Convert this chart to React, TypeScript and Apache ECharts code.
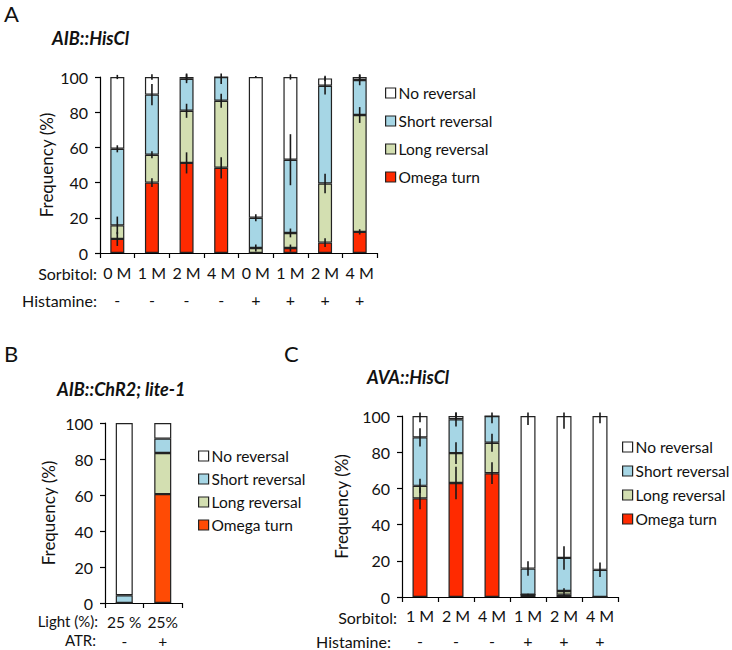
import React, { useEffect, useRef } from "react";
import * as echarts from "echarts";

// ---------- Panel A: AIB::HisCl ----------
const sorbitolA = ["0 M", "1 M", "2 M", "4 M", "0 M", "1 M", "2 M", "4 M"];
const histamineA = ["-", "-", "-", "-", "+", "+", "+", "+"];
// cumulative tops of each stacked segment (%)
const omegaTopA = [8, 40, 51.2, 48.4, 0, 2.8, 5.9, 12];
const longTopA = [15.7, 55.8, 80.8, 86.5, 2.8, 11.4, 39.5, 78.4];
const shortTopA = [59.2, 90, 99, 100, 20, 53, 95, 98.3];
const totalA = [100, 100, 100, 100, 100, 100, 99.2, 100];
const errOmegaA = [4, 2.5, 6, 6, 0, 2, 2.5, 1.5];
const errLongA = [5, 2, 4, 4, 2, 2.5, 5.5, 4.5];
const errShortA = [2, 6, 2.5, 4, 2, 14.5, 5, 3];
const errTotalA = [1.2, 1.5, 2, 0, 0.5, 1.5, 1.5, 1.5];

// ---------- Panel B: AIB::ChR2; lite-1 ----------
const lightB = ["25 %", "25%"];
const atrB = ["-", "+"];
const omegaTopB = [0, 60.5];
const longTopB = [0, 83.3];
const shortTopB = [4.3, 91.3];
const totalB = [100, 100];

// ---------- Panel C: AVA::HisCl ----------
const sorbitolC = ["1 M", "2 M", "4 M", "1 M", "2 M", "4 M"];
const histamineC = ["-", "-", "-", "+", "+", "+"];
const omegaTopC = [54.5, 63, 68.4, 1.3, 1.3, 0];
const longTopC = [61.4, 79.5, 85.2, 1.3, 3.3, 0];
const shortTopC = [88.2, 98.2, 100, 15.7, 21.6, 15];
const totalC = [100, 100, 100, 100, 100, 100];
const errOmegaC = [6, 9, 6, 0.5, 0.5, 0];
const errLongC = [4, 6, 5, 0, 1.5, 0];
const errShortC = [5, 4, 4, 4, 6.5, 4];
const errTotalC = [3.5, 2, 0, 5, 7, 4];

const legendNames = ["No reversal", "Short reversal", "Long reversal", "Omega turn"];

const FONT = "Lato";
const C_NONE = "#FFFFFF";
const C_SHORT = "#A6D6E5";
const C_LONG = "#D3DFB1";
const C_OMEGA = "#FF2A00";
const C_OMEGA_B = "#FF4B05";
const EDGE = "#222222";
const ERR_CLIP = 102;

function diff(a: number[], b: number[]) {
  return a.map((v, i) => +(v - b[i]).toFixed(2));
}

function stackSeries(
  idx: number,
  omega: number[],
  long: number[],
  short: number[],
  total: number[],
  barWidth: number,
  omegaColor: string
) {
  const zero = omega.map(() => 0);
  const segs = [
    { name: "Omega turn", data: diff(omega, zero), color: omegaColor },
    { name: "Long reversal", data: diff(long, omega), color: C_LONG },
    { name: "Short reversal", data: diff(short, long), color: C_SHORT },
    { name: "No reversal", data: diff(total, short), color: C_NONE },
  ];
  return segs.map((s) => ({
    type: "bar",
    name: s.name,
    stack: "p" + idx,
    xAxisIndex: idx,
    yAxisIndex: idx,
    barWidth,
    data: s.data,
    itemStyle: { color: s.color, borderColor: EDGE, borderWidth: 1.2 },
    emphasis: { disabled: true },
  }));
}

function errorSeries(idx: number, tops: number[][], errs: number[][]) {
  const data: number[][] = [];
  tops.forEach((arr, k) => {
    arr.forEach((v, i) => {
      const e = errs[k][i];
      if (e > 0) data.push([i, v - e, Math.min(v + e, ERR_CLIP)]);
    });
  });
  return {
    type: "custom",
    name: "err" + idx,
    xAxisIndex: idx,
    yAxisIndex: idx,
    z: 10,
    silent: true,
    data,
    renderItem: (params: any, api: any) => {
      const lo = api.coord([api.value(0), api.value(1)]);
      const hi = api.coord([api.value(0), api.value(2)]);
      return {
        type: "line",
        shape: { x1: lo[0], y1: lo[1], x2: hi[0], y2: hi[1] },
        style: { stroke: "#1a1a1a", lineWidth: 1.6 },
      };
    },
  };
}

function xAxis(
  idx: number,
  top: string[],
  bottom: string[],
  lineHeight: number,
  margin: number,
  fontSize = 16
) {
  return {
    type: "category",
    gridIndex: idx,
    data: top,
    axisLine: { lineStyle: { color: "#000", width: 1.2 } },
    axisTick: { show: true, length: 5, alignWithLabel: false, lineStyle: { color: "#000", width: 1.2 } },
    axisLabel: {
      interval: 0,
      margin,
      fontFamily: FONT,
      fontSize,
      color: "#111",
      lineHeight,
      formatter: (v: string, i: number) => `${v}\n${bottom[i]}`,
    },
  };
}

function yAxis(idx: number, nameGap: number) {
  return {
    type: "value",
    gridIndex: idx,
    min: 0,
    max: 100,
    interval: 20,
    name: "Frequency (%)",
    nameLocation: "middle",
    nameGap,
    nameTextStyle: { fontFamily: FONT, fontSize: 17, color: "#111" },
    axisLine: { show: true, lineStyle: { color: "#000", width: 1.2 } },
    axisTick: { show: true, length: 5, lineStyle: { color: "#000", width: 1.2 } },
    axisLabel: { fontFamily: FONT, fontSize: 16, color: "#111", margin: 12 },
    splitLine: { show: false },
  };
}

function legend(left: number, top: number, gap: number, omegaColor: string) {
  const colors: Record<string, string> = {
    "No reversal": C_NONE,
    "Short reversal": C_SHORT,
    "Long reversal": C_LONG,
    "Omega turn": omegaColor,
  };
  return {
    orient: "vertical",
    left,
    top,
    padding: 0,
    itemWidth: 10,
    itemHeight: 10,
    itemGap: gap,
    selectedMode: false,
    icon: "rect",
    textStyle: { fontFamily: FONT, fontSize: 15.5, color: "#111", padding: [0, 0, 0, -2] },
    data: legendNames.map((n) => ({
      name: n,
      itemStyle: { color: colors[n], borderColor: EDGE, borderWidth: 1.2 },
    })),
  };
}

function txt(x: number, y: number, text: string, size: number, opts: any = {}) {
  return {
    type: "text",
    x,
    y,
    style: {
      text,
      fontFamily: FONT,
      fontSize: size,
      fill: "#111",
      verticalAlign: "middle",
      ...opts,
    },
  };
}

export default function App() {
  const ref = useRef<HTMLDivElement>(null);
  useEffect(() => {
    if (!ref.current) return;
    const chart = echarts.init(ref.current, undefined, { renderer: "svg" });
    const option: any = {
      animation: false,
      grid: [
        { left: 100, top: 77, width: 277, height: 176, outerBoundsMode: "none" },
        { left: 105, top: 423, width: 77, height: 180, outerBoundsMode: "none" },
        { left: 402, top: 416, width: 216, height: 181, outerBoundsMode: "none" },
      ],
      xAxis: [
        xAxis(0, sorbitolA, histamineA, 27, 6),
        xAxis(1, lightB, atrB, 19, 9, 15.5),
        xAxis(2, sorbitolC, histamineC, 25, 6),
      ],
      yAxis: [yAxis(0, 45), yAxis(1, 48), yAxis(2, 52)],
      legend: [
        legend(385, 85, 12, C_OMEGA),
        legend(198, 448, 7, C_OMEGA_B),
        legend(622, 439, 8, C_OMEGA),
      ],
      series: [
        ...stackSeries(0, omegaTopA, longTopA, shortTopA, totalA, 14, C_OMEGA),
        errorSeries(0, [omegaTopA, longTopA, shortTopA, totalA], [errOmegaA, errLongA, errShortA, errTotalA]),
        ...stackSeries(1, omegaTopB, longTopB, shortTopB, totalB, 17, C_OMEGA_B),
        ...stackSeries(2, omegaTopC, longTopC, shortTopC, totalC, 15, C_OMEGA),
        errorSeries(2, [omegaTopC, longTopC, shortTopC, totalC], [errOmegaC, errLongC, errShortC, errTotalC]),
      ],
      graphic: [
        txt(4, 13, "A", 22),
        txt(52, 38, "AIB::HisCl", 18, { fontWeight: "bold", fontStyle: "italic" }),
        txt(97, 273, "Sorbitol:", 16, { align: "right" }),
        txt(97, 300, "Histamine:", 16, { align: "right" }),
        txt(4, 353, "B", 22),
        txt(57, 389, "AIB::ChR2; lite-1", 18, { fontWeight: "bold", fontStyle: "italic" }),
        txt(98, 621, "Light (%):", 15, { align: "right" }),
        txt(96, 640, "ATR:", 15, { align: "right" }),
        txt(284, 353, "C", 22),
        txt(367, 377, "AVA::HisCl", 18, { fontWeight: "bold", fontStyle: "italic" }),
        txt(397, 617, "Sorbitol:", 16, { align: "right" }),
        txt(391, 641, "Histamine:", 16, { align: "right" }),
      ],
    };
    chart.setOption(option);
    return () => chart.dispose();
  }, []);
  return (
    <div
      ref={ref}
      style={{ position: "fixed", left: 0, top: 0, width: 732, height: 650, background: "#fff" }}
    />
  );
}
